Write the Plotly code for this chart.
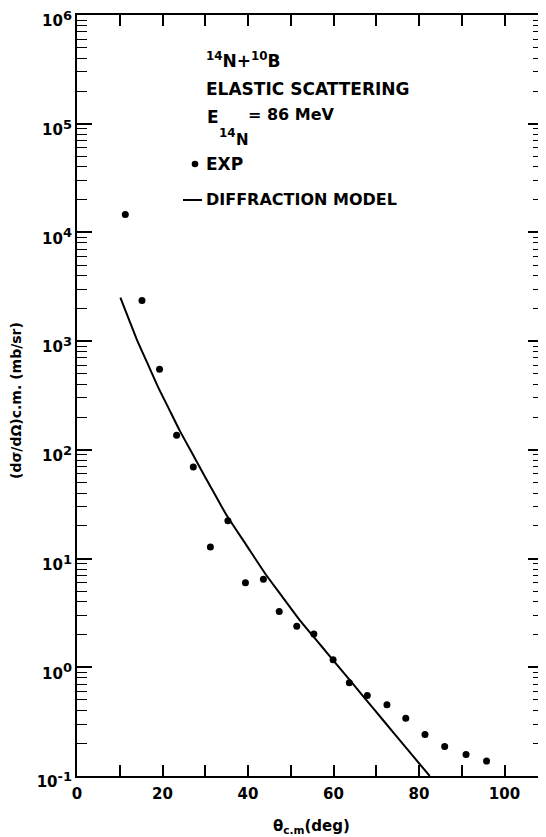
import plotly.graph_objects as go

# Experimental data (theta_cm in deg, dsigma/dOmega in mb/sr)
theta_exp = [11.3, 15.2, 19.3, 23.3, 27.2, 31.2, 35.3, 39.4, 43.6, 47.3, 51.4,
             55.4, 59.9, 63.7, 67.9, 72.5, 76.9, 81.4, 86.0, 91.0, 95.8]
sigma_exp = [14600, 2360, 551, 136, 69.5, 12.8, 22.3, 6.0, 6.44, 3.25, 2.38,
             2.02, 1.17, 0.72, 0.551, 0.453, 0.339, 0.241, 0.187, 0.158, 0.137]

# Diffraction model curve
theta_model = [10.15, 12.0, 14.0, 16.5, 19.0, 21.5, 24.0, 27.0, 30.0, 32.5, 35.0,
               39.5, 44.0, 48.0, 52.0, 57.0, 62.0, 67.0, 72.0, 77.0, 82.5]
sigma_model = [2512, 1641, 1035, 624, 376, 238.5, 151, 92.0, 56.0, 37.4, 25.0,
               13.5, 7.29, 4.47, 2.745, 1.594, 0.926, 0.538, 0.312, 0.181, 0.100]

x_ticks = [0, 10, 20, 30, 40, 50, 60, 70, 80, 90, 100]
x_ticktext = ["0", "", "20", "", "40", "", "60", "", "80", "", "100"]
y_exps = [-1, 0, 1, 2, 3, 4, 5, 6]

OFF = 8                     # page body margin
W, H = 546 - OFF, 837 - OFF
L, R, T, B = 77, 543, 15, 776   # plot area in page pixels
PW, PH = R - L, B - T


def px(x, y):
    return (x - L) / PW, (B - y) / PH


FONT = "DejaVu Sans"
fig = go.Figure()
fig.add_trace(go.Scatter(x=theta_model, y=sigma_model, mode="lines", name="DIFFRACTION MODEL",
                         line=dict(color="black", width=2, shape="spline", smoothing=0.5),
                         showlegend=False))
fig.add_trace(go.Scatter(x=theta_exp, y=sigma_exp, mode="markers", name="EXP",
                         marker=dict(color="black", size=7), showlegend=False))

minor_vals = [m * 10 ** e for e in range(-1, 6) for m in range(2, 10)]

fig.update_xaxes(range=[0, 109], tickmode="array", tickvals=x_ticks, ticktext=x_ticktext,
                 ticks="inside", ticklen=11, tickwidth=1.6, tickcolor="black",
                 showline=True, linecolor="black", linewidth=2, mirror="ticks",
                 showgrid=False, zeroline=False, ticklabelstandoff=3,
                 automargin=False,
                 tickfont=dict(family=FONT, size=15, color="black", weight="bold"))
fig.update_yaxes(type="log", range=[-1.0002, 6.0002], tickmode="array",
                 tickvals=[10 ** e for e in y_exps],
                 ticktext=["10<sup><span style='font-size:13px'>%d</span></sup>" % e for e in y_exps],
                 ticks="inside", ticklen=15, tickwidth=1.6, tickcolor="black",
                 minor=dict(tickmode="array", tickvals=minor_vals, ticks="inside",
                            ticklen=10, tickwidth=1.4, tickcolor="black", showgrid=False),
                 showline=True, linecolor="black", linewidth=2, mirror="ticks",
                 showgrid=False, zeroline=False, ticklabeloverflow="allow",
                 ticklabelshift=6, automargin=False,
                 tickfont=dict(family=FONT, size=15, color="black", weight="bold"))

ann = []


def add(text, x, y, size, xanchor="left", yanchor="middle", angle=0):
    xp, yp = px(x, y)
    ann.append(dict(text=text, x=xp, y=yp, xref="paper", yref="paper", showarrow=False,
                    xanchor=xanchor, yanchor=yanchor, textangle=angle, borderpad=0,
                    font=dict(family=FONT, size=size, color="black", weight="bold")))


add("<sup>14</sup>N+<sup>10</sup>B", 205, 60, 17)
add("ELASTIC SCATTERING", 205, 89, 17)
add("E", 206, 117, 17)
add("14", 218, 133, 12)
add("N", 235, 140, 15)
add("= 86 MeV", 247, 115, 16)
add("EXP", 205, 164, 17)
add("DIFFRACTION MODEL", 205, 200, 16)
add("(dσ/dΩ)c.m. (mb/sr)", 16, 401, 14, xanchor="center", angle=-90)
add("θ<sub>c.m</sub>(deg)", 311, 826, 15, xanchor="center")

shapes = []
cx, cy = px(195, 164)
r = 3.3
shapes.append(dict(type="circle", xref="paper", yref="paper",
                   x0=cx - r / PW, x1=cx + r / PW, y0=cy - r / PH, y1=cy + r / PH,
                   fillcolor="black", line=dict(color="black", width=0)))
lx0, ly = px(183, 200)
lx1, _ = px(202, 200)
shapes.append(dict(type="line", xref="paper", yref="paper", x0=lx0, x1=lx1, y0=ly, y1=ly,
                   line=dict(color="black", width=2)))

fig.update_layout(width=W, height=H,
                  margin=dict(l=L - OFF, r=W - (R - OFF), t=T - OFF, b=H - (B - OFF),
                              autoexpand=False),
                  plot_bgcolor="white", paper_bgcolor="white",
                  annotations=ann, shapes=shapes, showlegend=False)

fig.write_html("out.html")
